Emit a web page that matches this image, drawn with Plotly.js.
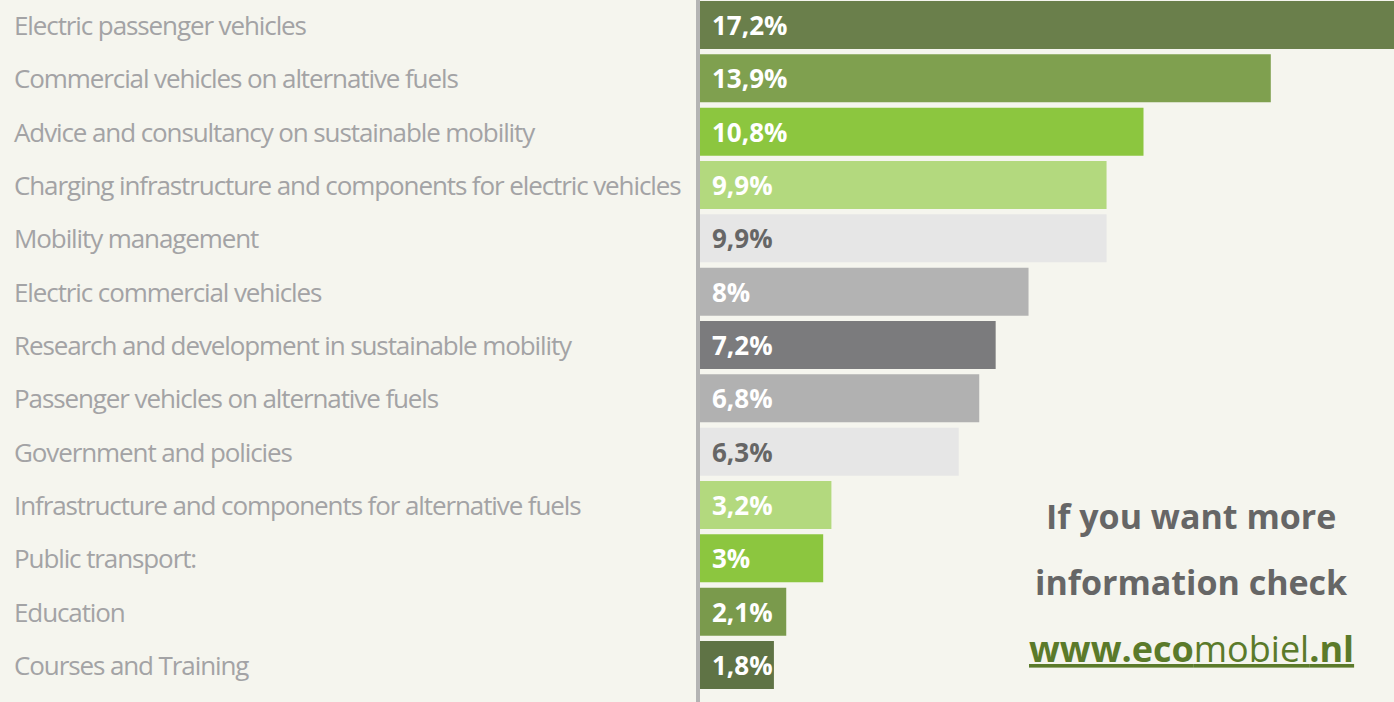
<!DOCTYPE html>
<html>
<head>
<meta charset="utf-8">
<script src="https://cdn.plot.ly/plotly-3.0.1.min.js"></script>
<style>
html,body{margin:0;padding:0;background:#f5f5ee;}
#chart{width:1394px;height:702px;}
</style>
</head>
<body>
<div id="chart"></div>
<script>
const categories = [
  "Electric passenger vehicles",
  "Commercial vehicles on alternative fuels",
  "Advice and consultancy on sustainable mobility",
  "Charging infrastructure and components for electric vehicles",
  "Mobility management",
  "Electric commercial vehicles",
  "Research and development in sustainable mobility",
  "Passenger vehicles on alternative fuels",
  "Government and policies",
  "Infrastructure and components for alternative fuels",
  "Public transport:",
  "Education",
  "Courses and Training"
];
const values = [17.2, 13.9, 10.8, 9.9, 9.9, 8, 7.2, 6.8, 6.3, 3.2, 3, 2.1, 1.8];
const barColors = ["#6a7f4b", "#7fa04f", "#8cc63f", "#b3d97e", "#e6e6e6", "#b3b3b3",
                   "#7b7b7d", "#b1b1b1", "#e6e6e6", "#b3d97e", "#8cc63f", "#7a9a4c", "#5f7345"];
const labelColors = ["#ffffff", "#ffffff", "#ffffff", "#ffffff", "#666666", "#ffffff",
                     "#ffffff", "#ffffff", "#666666", "#ffffff", "#ffffff", "#ffffff", "#ffffff"];
const infoLines = ["If you want more", "information check"];
const linkParts = ["www.eco", "mobiel", ".nl"];

const fmt = v => String(v).replace('.', ',') + '%';

const trace = {
  type: 'bar',
  orientation: 'h',
  x: values,
  y: categories,
  marker: {color: barColors},
  hoverinfo: 'skip'
};

const annotations = [];
const catAnnIdx = [];
categories.forEach((c, i) => {
  catAnnIdx.push(annotations.length);
  annotations.push({
    xref: 'paper', yref: 'y', x: (12 - 700) / 694, y: c, xanchor: 'left', yanchor: 'middle', align: 'left',
    text: c, showarrow: false,
    font: {family: 'Open Sans, sans-serif', size: 26, color: '#a3a3a5'}
  });
  annotations.push({
    xref: 'x', yref: 'y', x: 0, y: c, xanchor: 'left', yanchor: 'middle', align: 'left', xshift: 10,
    text: '<b>' + fmt(values[i]) + '</b>', showarrow: false,
    font: {family: 'Open Sans, sans-serif', size: 26, color: labelColors[i]}
  });
});
const infoY = [516, 582];
infoLines.forEach((t, k) => {
  annotations.push({
    xref: 'paper', yref: 'paper', x: (1191 - 700) / 694, y: 1 - infoY[k] / 702,
    xanchor: 'center', yanchor: 'middle', showarrow: false,
    text: '<b>' + t + '</b>',
    font: {family: 'Open Sans, sans-serif', size: 34, color: '#666666'}
  });
});
annotations.push({
  xref: 'paper', yref: 'paper', x: (1191 - 700) / 694, y: 1 - 648 / 702,
  xanchor: 'center', yanchor: 'middle', showarrow: false,
  text: '<span style="text-decoration:underline"><b>' + linkParts[0] + '</b>' + linkParts[1] + '<b>' + linkParts[2] + '</b></span>',
  font: {family: 'Open Sans, sans-serif', size: 36, color: '#5b7a2a'}
});

const layout = {
  width: 1394, height: 702,
  margin: {l: 700, r: 0, t: 0, b: 0},
  paper_bgcolor: '#f5f5ee',
  plot_bgcolor: '#f5f5ee',
  bargap: 0.1,
  showlegend: false,
  xaxis: {range: [0, 16.9], showgrid: false, zeroline: false, showticklabels: false, showline: false, fixedrange: true},
  yaxis: {type: 'category', range: [12.694, -0.469], showgrid: false, zeroline: false, showticklabels: false,
          showline: true, linecolor: '#b4b4b4', linewidth: 4, ticks: '', fixedrange: true},
  annotations: annotations
};

Plotly.newPlot('chart', [trace], layout, {displayModeBar: false, staticPlot: true}).then(gd => {
  const anns = gd.querySelectorAll('.annotation');
  catAnnIdx.forEach(k => {
    const t = anns[k] && anns[k].querySelector('.annotation-text');
    if (t) t.style.letterSpacing = '-1.1px';
  });
});
</script>
</body>
</html>
